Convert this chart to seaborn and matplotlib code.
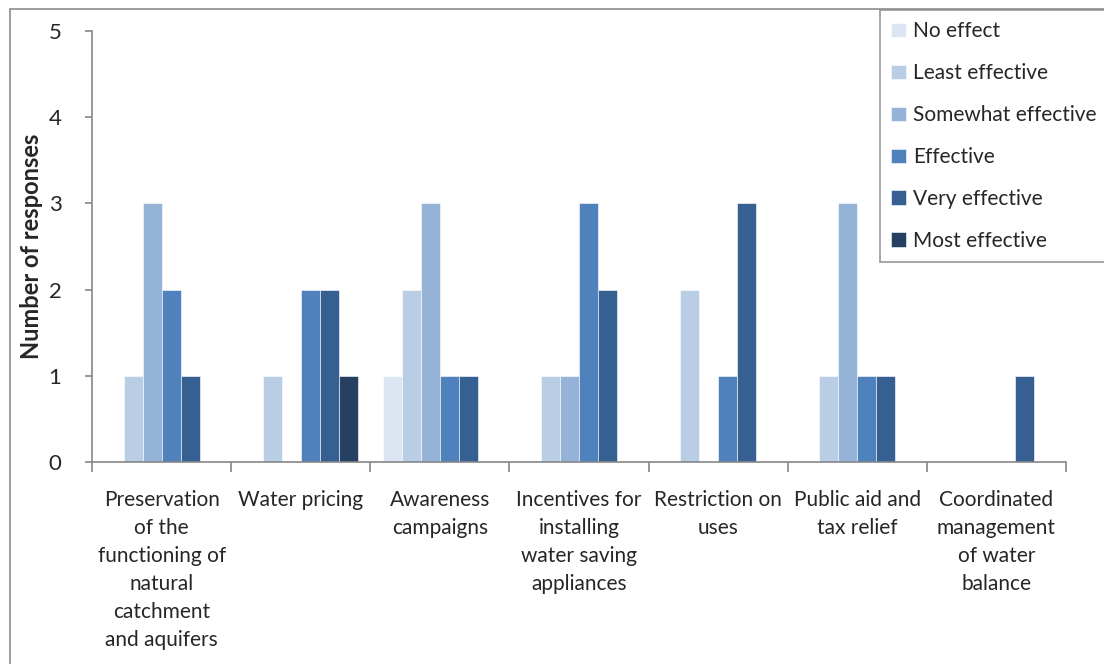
import matplotlib
matplotlib.use("Agg")
import matplotlib.pyplot as plt
import seaborn as sns
import pandas as pd
from matplotlib.patches import Rectangle

categories = [
    "Preservation\nof the\nfunctioning of\nnatural\ncatchment\nand aquifers",
    "Water pricing",
    "Awareness\ncampaigns",
    "Incentives for\ninstalling\nwater saving\nappliances",
    "Restriction on\nuses",
    "Public aid and\ntax relief",
    "Coordinated\nmanagement\nof water\nbalance",
]
levels = ["No effect", "Least effective", "Somewhat effective",
          "Effective", "Very effective", "Most effective"]
no_effect = [0, 0, 1, 0, 0, 0, 0]
least_effective = [1, 1, 2, 1, 2, 1, 0]
somewhat_effective = [3, 0, 3, 1, 0, 3, 0]
effective = [2, 2, 1, 3, 1, 1, 0]
very_effective = [1, 2, 1, 2, 3, 1, 1]
most_effective = [0, 1, 0, 0, 0, 0, 0]
colors = ["#DCE6F2", "#B9CDE5", "#95B3D7", "#4F81BD", "#376092", "#254061"]

series = [no_effect, least_effective, somewhat_effective,
          effective, very_effective, most_effective]
rows = []
for lvl, vals in zip(levels, series):
    for cat, v in zip(categories, vals):
        rows.append({"Measure": cat, "Rating": lvl, "Responses": v})
df = pd.DataFrame(rows)

sns.set_theme(style="white")
plt.rcParams["font.family"] = ["Lato", "DejaVu Sans"]

fig = plt.figure(figsize=(11.04, 6.64), dpi=100)
ax = fig.add_axes([92 / 1104, 1 - 462 / 664, (1066 - 92) / 1104, (462 - 31) / 664])

sns.barplot(data=df, x="Measure", y="Responses", hue="Rating",
            hue_order=levels, order=categories, palette=colors,
            width=0.82, dodge=True, saturation=1, ax=ax,
            edgecolor="white", linewidth=0.4, legend=True)

ax.set_ylim(0, 5)
ax.set_xlim(-0.5, len(categories) - 0.5)
ax.set_yticks(range(6))
ax.set_xlabel("")
ax.set_ylabel("")
fig.text(32 / 1104, 1 - 246 / 664, "Number of responses", rotation=90,
         ha="center", va="center", fontsize=17, fontweight="bold")

spine_c = "#868686"
for side in ["top", "right"]:
    ax.spines[side].set_visible(False)
for side in ["left", "bottom"]:
    ax.spines[side].set_color(spine_c)
    ax.spines[side].set_linewidth(1.2)

ax.tick_params(axis="y", which="major", length=5, color=spine_c, width=1.2,
               labelsize=16, pad=17, left=True)
ax.set_xticks(range(len(categories)))
ax.set_xticklabels(categories, fontsize=15, va="top")
for t in ax.get_xticklabels():
    t.set_linespacing(1.5)
ax.tick_params(axis="x", which="major", length=0, pad=20)
ax.set_xticks([i - 0.5 for i in range(len(categories) + 1)], minor=True)
ax.tick_params(axis="x", which="minor", length=7, color=spine_c, width=1.2, bottom=True)
ax.grid(False)

leg = ax.legend(loc="upper left", bbox_to_anchor=(880 / 1104, 1 - 10 / 664),
                bbox_transform=fig.transFigure, frameon=True, fancybox=False,
                fontsize=15, handlelength=0.7, handleheight=0.7,
                handletextpad=0.35, labelspacing=1.05, borderpad=0.55,
                borderaxespad=0)
leg.get_frame().set_edgecolor("#7F7F7F")
leg.get_frame().set_linewidth(1.2)

fig.patches.append(Rectangle((10 / 1104, -0.1), 1.2, 1.1 - 9 / 664,
                             transform=fig.transFigure, fill=False,
                             edgecolor="#8C8C8C", linewidth=1.2))

fig.savefig("out.png", dpi=100)
